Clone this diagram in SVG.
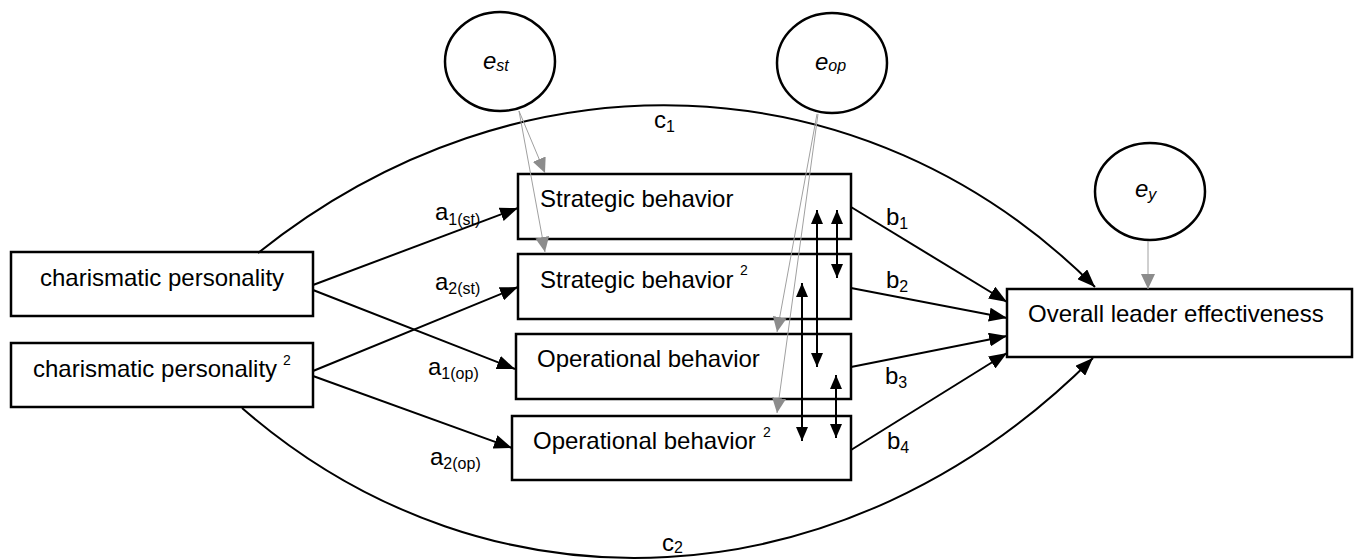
<svg xmlns="http://www.w3.org/2000/svg" width="1359" height="559" viewBox="0 0 1359 559">
<style>
.box{fill:#fff;stroke:#000;stroke-width:2.5}
.ell{fill:#fff;stroke:#000;stroke-width:2.5}
.t{font-family:"Liberation Sans",Arial,sans-serif;font-size:24px;fill:#000}
.sup{font-family:"Liberation Sans",Arial,sans-serif;font-size:14px;fill:#000}
.ti{font-family:"Liberation Sans",Arial,sans-serif;font-size:24px;font-style:italic;fill:#000}
.sub{font-size:16px}
.ln{fill:none;stroke:#000;stroke-width:2}
.gl{fill:none;stroke:#a0a0a0;stroke-width:1}
</style>
<defs>
<marker id="ah" viewBox="0 0 18 14" refX="18" refY="7" markerWidth="18" markerHeight="14" markerUnits="userSpaceOnUse" orient="auto-start-reverse"><path d="M0,0 L18,7 L0,14 z" fill="#000"/></marker>
<marker id="ahs" viewBox="0 0 14 12" refX="14" refY="6" markerWidth="14" markerHeight="12" markerUnits="userSpaceOnUse" orient="auto-start-reverse"><path d="M0,0 L14,6 L0,12 z" fill="#000"/></marker>
<marker id="ag" viewBox="0 0 15 14" refX="15" refY="7" markerWidth="15" markerHeight="14" markerUnits="userSpaceOnUse" orient="auto"><path d="M0,0 L15,7 L0,14 z" fill="#8c8c8c"/></marker>
</defs>
<rect width="1359" height="559" fill="#fff"/>

<g id="cp"><rect class="box" x="11" y="252" width="302" height="64"/><text class="t" x="162" y="286" text-anchor="middle">charismatic personality</text></g>
<g id="cp2"><rect class="box" x="11" y="343" width="302" height="64"/><text class="t" x="33" y="377">charismatic personality</text><text class="sup" x="283" y="365">2</text></g>
<g id="sb"><rect class="box" x="518" y="174" width="333" height="65"/><text class="t" x="540" y="207">Strategic behavior</text></g>
<g id="sb2"><rect class="box" x="518" y="254" width="333" height="65"/><text class="t" x="540" y="288">Strategic behavior</text><text class="sup" x="740" y="275">2</text></g>
<g id="ob"><rect class="box" x="516" y="334" width="335" height="65"/><text class="t" x="537" y="367">Operational behavior</text></g>
<g id="ob2"><rect class="box" x="512" y="416" width="339" height="64"/><text class="t" x="533" y="449">Operational behavior</text><text class="sup" x="763" y="437">2</text></g>
<g id="ole"><rect class="box" x="1007" y="289" width="345" height="68"/><text class="t" x="1028" y="322">Overall leader effectiveness</text></g>
<g id="est"><ellipse class="ell" cx="500" cy="61.5" rx="55" ry="49.5"/><text class="ti" x="483" y="69">e<tspan class="sub" dy="2">st</tspan></text></g>
<g id="eop"><ellipse class="ell" cx="832" cy="63" rx="55" ry="50"/><text class="ti" x="815" y="70">e<tspan class="sub" dy="1">op</tspan></text></g>
<g id="ey"><ellipse class="ell" cx="1150" cy="191.5" rx="55" ry="48.5"/><text class="ti" x="1135" y="197">e<tspan class="sub" dy="3">y</tspan></text></g>

<g id="connectors">
<path class="ln" d="M313,285 L518,208" marker-end="url(#ah)"/>
<path class="ln" d="M313,290 L515,369" marker-end="url(#ah)"/>
<path class="ln" d="M313,371 L518,287" marker-end="url(#ah)"/>
<path class="ln" d="M313,376 L512,448" marker-end="url(#ah)"/>
<path class="ln" d="M851,207 L1007,302" marker-end="url(#ah)"/>
<path class="ln" d="M851,288 L1007,318" marker-end="url(#ah)"/>
<path class="ln" d="M851,367 L1007,336" marker-end="url(#ah)"/>
<path class="ln" d="M851,450 L1007,353" marker-end="url(#ah)"/>
<path class="ln" d="M258,253 C518,45 865,57 1095,287" marker-end="url(#ah)"/>
<path class="ln" d="M242,408 C490,624 845,606 1093,358" marker-end="url(#ah)"/>
<path class="ln" d="M817,210 L817,367" marker-start="url(#ahs)" marker-end="url(#ahs)"/>
<path class="ln" d="M837,210 L837,278" marker-start="url(#ahs)" marker-end="url(#ahs)"/>
<path class="ln" d="M802,283 L802,441" marker-start="url(#ahs)" marker-end="url(#ahs)"/>
<path class="ln" d="M836,375 L836,438" marker-start="url(#ahs)" marker-end="url(#ahs)"/>
<path class="gl" d="M519,111 L545,173" marker-end="url(#ag)"/>
<path class="gl" d="M519,111 L545,252" marker-end="url(#ag)"/>
<path class="gl" d="M817,114 L777,332" marker-end="url(#ag)"/>
<path class="gl" d="M818,114 L777,413" marker-end="url(#ag)"/>
<path class="gl" d="M1148,241 L1148,289" marker-end="url(#ag)"/>
</g>

<g id="labels">
<text class="t" x="435" y="220">a<tspan class="sub" dy="5">1(st)</tspan></text>
<text class="t" x="435" y="290">a<tspan class="sub" dy="4">2(st)</tspan></text>
<text class="t" x="428" y="375">a<tspan class="sub" dy="4">1(op)</tspan></text>
<text class="t" x="430" y="465">a<tspan class="sub" dy="4">2(op)</tspan></text>
<text class="t" x="886" y="225">b<tspan class="sub" dy="4">1</tspan></text>
<text class="t" x="886" y="288">b<tspan class="sub" dy="4">2</tspan></text>
<text class="t" x="885" y="384">b<tspan class="sub" dy="4">3</tspan></text>
<text class="t" x="887" y="449">b<tspan class="sub" dy="4">4</tspan></text>
<text class="t" x="654" y="128">c<tspan class="sub" dy="4">1</tspan></text>
<text class="t" x="662" y="551">c<tspan class="sub" dy="2">2</tspan></text>
</g>
</svg>
